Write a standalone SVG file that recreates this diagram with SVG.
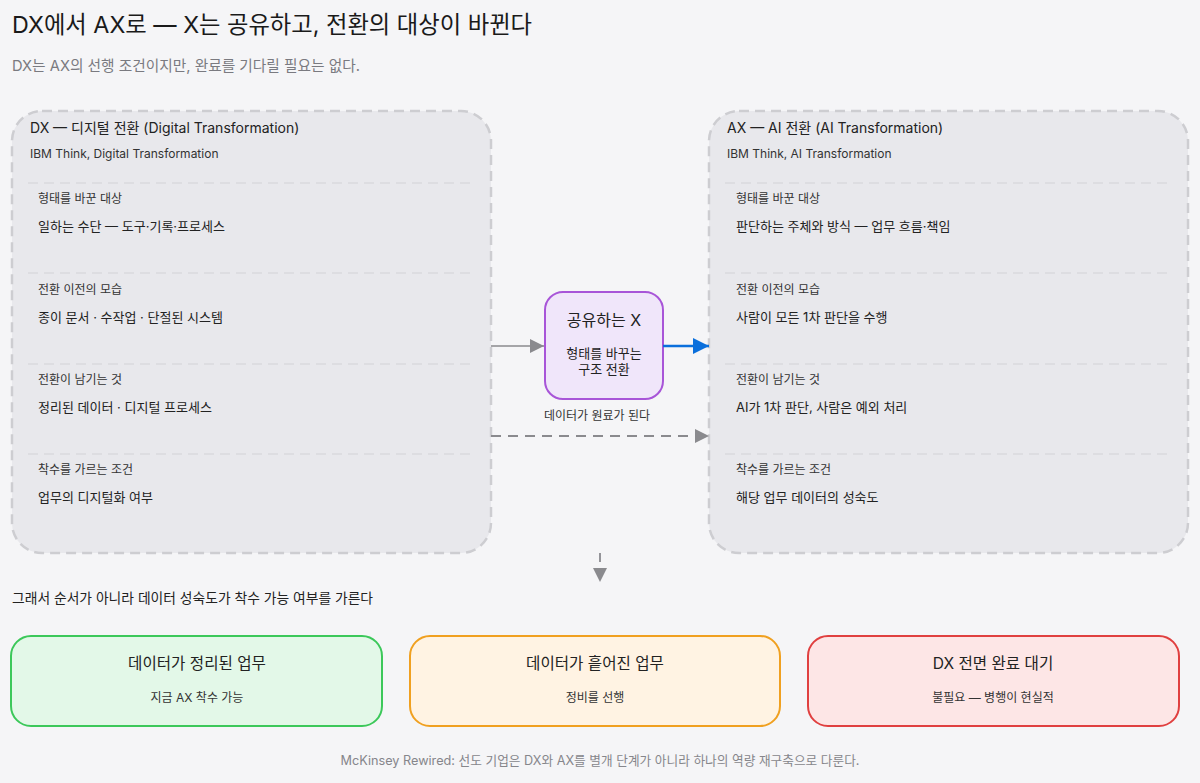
<svg xmlns="http://www.w3.org/2000/svg" width="1200" height="783" viewBox="0 0 1200 783">
<defs>
<style>
text{font-family:Inter,"Noto Sans CJK KR",sans-serif;fill:#222}
.title{font-size:23.3px;fill:#1a1a1a}
.sub{font-size:14.7px;fill:#7a7a80}
.ctitle{font-size:14px;fill:#222}
.csrc{font-size:12px;fill:#333}
.lab{font-size:12px;fill:#333}
.val{font-size:13px;fill:#222}
.cont{fill:#e8e8ec;stroke:#cdcdd1;stroke-width:2.5;stroke-dasharray:10 6}
.sep{stroke:#d2d2d6;stroke-width:1.2;stroke-dasharray:10 6}
.btitle{font-size:15.6px;text-anchor:middle;fill:#222}
.bsub{font-size:12px;text-anchor:middle;fill:#333}
.elab{font-size:12px;text-anchor:middle;fill:#333}
.note{font-size:13.8px;fill:#222}
.foot{font-size:12.7px;text-anchor:middle;fill:#86868b}
</style>
<marker id="ag" viewBox="0 0 10 10" refX="10" refY="5" markerWidth="15" markerHeight="14" orient="auto" markerUnits="userSpaceOnUse"><path d="M0,0 L10,5 L0,10 z" fill="#8a8a8e"/></marker>
<marker id="ab" viewBox="0 0 10 10" refX="10" refY="5" markerWidth="16" markerHeight="16" orient="auto" markerUnits="userSpaceOnUse"><path d="M0,0 L10,5 L0,10 z" fill="#0a6fdc"/></marker>
</defs>
<rect width="1200" height="783" fill="#f5f5f7"/>
<text class="title" x="12" y="33">DX에서 AX로 — X는 공유하고, 전환의 대상이 바뀐다</text>
<text class="sub" x="12" y="71">DX는 AX의 선행 조건이지만, 완료를 기다릴 필요는 없다.</text>

<g id="dx">
<rect class="cont" x="12" y="111" width="479" height="442" rx="30"/>
<text class="ctitle" x="30" y="133">DX — 디지털 전환 (Digital Transformation)</text>
<text class="csrc" x="30" y="158">IBM Think, Digital Transformation</text>
<line class="sep" x1="28" y1="183" x2="474" y2="183"/>
<text class="lab" x="38" y="203">형태를 바꾼 대상</text>
<text class="val" x="38" y="231">일하는 수단 — 도구·기록·프로세스</text>
<line class="sep" x1="28" y1="273" x2="474" y2="273"/>
<text class="lab" x="38" y="294">전환 이전의 모습</text>
<text class="val" x="38" y="322">종이 문서 · 수작업 · 단절된 시스템</text>
<line class="sep" x1="28" y1="364" x2="474" y2="364"/>
<text class="lab" x="38" y="384">전환이 남기는 것</text>
<text class="val" x="38" y="412">정리된 데이터 · 디지털 프로세스</text>
<line class="sep" x1="28" y1="454" x2="474" y2="454"/>
<text class="lab" x="38" y="474">착수를 가르는 조건</text>
<text class="val" x="38" y="502">업무의 디지털화 여부</text>
</g>

<g id="ax">
<rect class="cont" x="709" y="111" width="479" height="442" rx="30"/>
<text class="ctitle" x="727" y="133">AX — AI 전환 (AI Transformation)</text>
<text class="csrc" x="727" y="158">IBM Think, AI Transformation</text>
<line class="sep" x1="725" y1="183" x2="1171" y2="183"/>
<text class="lab" x="736" y="203">형태를 바꾼 대상</text>
<text class="val" x="736" y="231">판단하는 주체와 방식 — 업무 흐름·책임</text>
<line class="sep" x1="725" y1="273" x2="1171" y2="273"/>
<text class="lab" x="736" y="294">전환 이전의 모습</text>
<text class="val" x="736" y="322">사람이 모든 1차 판단을 수행</text>
<line class="sep" x1="725" y1="364" x2="1171" y2="364"/>
<text class="lab" x="736" y="384">전환이 남기는 것</text>
<text class="val" x="736" y="412">AI가 1차 판단, 사람은 예외 처리</text>
<line class="sep" x1="725" y1="454" x2="1171" y2="454"/>
<text class="lab" x="736" y="474">착수를 가르는 조건</text>
<text class="val" x="736" y="502">해당 업무 데이터의 성숙도</text>
</g>

<g id="shared">
<rect x="545" y="292" width="118" height="107" rx="18" fill="#f0e6fa" stroke="#a855d8" stroke-width="2"/>
<text x="604" y="326" font-size="16" text-anchor="middle">공유하는 X</text>
<text x="604" y="358" font-size="13" text-anchor="middle">형태를 바꾸는</text>
<text x="604" y="374" font-size="13" text-anchor="middle">구조 전환</text>
</g>

<g id="connectors">
<line x1="491" y1="346" x2="544" y2="346" stroke="#8a8a8e" stroke-width="1.5" marker-end="url(#ag)"/>
<line x1="663" y1="346" x2="709" y2="346" stroke="#0a6fdc" stroke-width="2.5" marker-end="url(#ab)"/>
<line x1="491" y1="436" x2="709" y2="436" stroke="#8a8a8e" stroke-width="1.8" stroke-dasharray="10 7" marker-end="url(#ag)"/>
<text class="elab" x="597" y="420">데이터가 원료가 된다</text>
<line x1="600" y1="553" x2="600" y2="582" stroke="#8a8a8e" stroke-width="1.8" stroke-dasharray="9 20" marker-end="url(#ag)"/>
</g>

<text class="note" x="12" y="603">그래서 순서가 아니라 데이터 성숙도가 착수 가능 여부를 가른다</text>

<g id="ready">
<rect x="11" y="636" width="371" height="90" rx="20" fill="#e3f8e8" stroke="#3cc85a" stroke-width="2"/>
<text class="btitle" x="197" y="669">데이터가 정리된 업무</text>
<text class="bsub" x="197" y="702">지금 AX 착수 가능</text>
</g>
<g id="scattered">
<rect x="410" y="636" width="370" height="90" rx="20" fill="#fff3e3" stroke="#f0a020" stroke-width="2"/>
<text class="btitle" x="595" y="669">데이터가 흩어진 업무</text>
<text class="bsub" x="595" y="702">정비를 선행</text>
</g>
<g id="wait">
<rect x="808" y="636" width="371" height="90" rx="20" fill="#fde6e6" stroke="#e04040" stroke-width="2"/>
<text class="btitle" x="993" y="669">DX 전면 완료 대기</text>
<text class="bsub" x="993" y="702">불필요 — 병행이 현실적</text>
</g>

<text class="foot" x="600" y="765">McKinsey Rewired: 선도 기업은 DX와 AX를 별개 단계가 아니라 하나의 역량 재구축으로 다룬다.</text>
</svg>
